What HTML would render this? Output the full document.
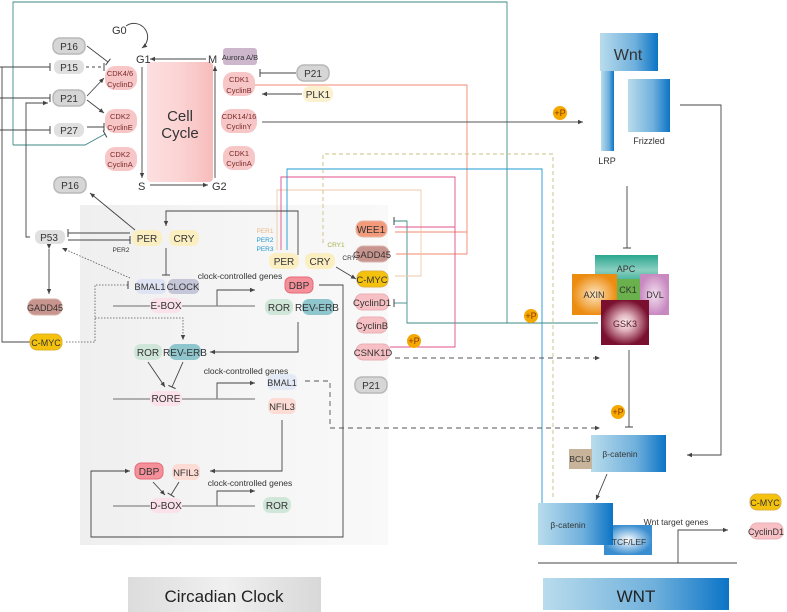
<!DOCTYPE html>
<html><head><meta charset="utf-8"><style>
html,body{margin:0;padding:0;background:#fff;}
svg{display:block;font-family:"Liberation Sans",sans-serif;}
</style></head><body>
<svg width="787" height="612" viewBox="0 0 787 612" xmlns="http://www.w3.org/2000/svg">
<defs>
<marker id="a" markerWidth="6" markerHeight="6" refX="5" refY="3" orient="auto" markerUnits="userSpaceOnUse"><path d="M0,0.8 L5,3 L0,5.2z" fill="#444"/></marker>
<marker id="t" markerWidth="2" markerHeight="8" refX="1" refY="4" orient="auto" markerUnits="userSpaceOnUse"><path d="M1,0 V8" stroke="#444" stroke-width="1"/></marker>
<linearGradient id="bg" x1="0" y1="0" x2="1" y2="0"><stop offset="0" stop-color="#efefef"/><stop offset="0.5" stop-color="#f5f5f5"/><stop offset="1" stop-color="#f9f9f9"/></linearGradient>
<linearGradient id="cc" x1="0" y1="0" x2="1" y2="0"><stop offset="0" stop-color="#fde0e0"/><stop offset="0.5" stop-color="#fbd3d3"/><stop offset="1" stop-color="#f7bcbc"/></linearGradient>
<linearGradient id="bl" x1="0" y1="0" x2="1" y2="0"><stop offset="0" stop-color="#b9dcec"/><stop offset="0.6" stop-color="#6fb0dc"/><stop offset="1" stop-color="#0b74c6"/></linearGradient>
<linearGradient id="cg" x1="0" y1="0" x2="1" y2="0"><stop offset="0" stop-color="#dcdcdc"/><stop offset="0.5" stop-color="#f0f0f0"/><stop offset="1" stop-color="#d8d8d8"/></linearGradient>
<radialGradient id="ax"><stop offset="0" stop-color="#fde7c4"/><stop offset="1" stop-color="#ec8c10"/></radialGradient>
<radialGradient id="gs"><stop offset="0" stop-color="#faf0f2"/><stop offset="0.35" stop-color="#e2b4c0"/><stop offset="1" stop-color="#7a1030"/></radialGradient>
<radialGradient id="dv"><stop offset="0" stop-color="#f4e0f0"/><stop offset="1" stop-color="#c889c0"/></radialGradient>
<linearGradient id="ap" x1="0" y1="0" x2="0" y2="1"><stop offset="0" stop-color="#2aa78f"/><stop offset="0.5" stop-color="#8acfc0"/><stop offset="1" stop-color="#2aa78f"/></linearGradient>
<radialGradient id="tc"><stop offset="0" stop-color="#fff"/><stop offset="1" stop-color="#3a8ed0"/></radialGradient>
</defs>

<rect x="80" y="205" width="308" height="340" fill="url(#bg)"/>

<rect x="147" y="62" width="66" height="120" rx="4" fill="url(#cc)"/>
<text x="180" y="121" font-size="15" text-anchor="middle" fill="#333">Cell</text>
<text x="180" y="138" font-size="15" text-anchor="middle" fill="#333">Cycle</text>
<g font-size="11" fill="#333">
<text x="112" y="34">G0</text><text x="136" y="63">G1</text><text x="208" y="63">M</text>
<text x="138" y="190">S</text><text x="212" y="190">G2</text>
</g>
<path d="M126,26 A11,11 0 1 1 142,48" fill="none" stroke="#444" marker-end="url(#a)"/>
<g stroke="#444" stroke-width="0.9" fill="none">
<path d="M142,67 V178" marker-end="url(#a)"/>
<path d="M150,185 H208" marker-end="url(#a)"/>
<path d="M215,178 V66" marker-end="url(#a)"/>
<path d="M206,59 H150" marker-end="url(#a)"/>
</g>

<g fill="none" stroke-width="0.9">
<path d="M13,145 V2 H507 V323" stroke="#3e8a86"/>
<path d="M13,145 H85 L105,134" stroke="#3e8a86" marker-end="url(#t)"/>
<path d="M394,221 H407 V323 H598" stroke="#3e8a86" marker-start="url(#t)"/>
<path d="M394,303 H407" stroke="#3e8a86" marker-start="url(#t)"/>
<path d="M254,85 H467 V254 H396" stroke="#f08a70"/>
<path d="M395,232 H467" stroke="#f08a70"/>
<path d="M277,250 V190 H421 V276 H395" stroke="#f0c8a8"/>
<path d="M281,250 V177 H455 V347 H390" stroke="#e0508a"/>
<path d="M395,227 H455" stroke="#e0508a"/>
<path d="M287,250 V169 H542 V505" stroke="#1e98d0"/>
<path d="M323,243 V154 H553 V500" stroke="#c8c080" stroke-dasharray="4,3"/>
<path d="M262,122 H583" stroke="#555" marker-end="url(#a)"/>
<path d="M395,358 H600" stroke="#555" stroke-dasharray="5,4" marker-end="url(#a)"/>
<path d="M305,381 H330 V428 H600" stroke="#555" stroke-dasharray="5,4" marker-end="url(#a)"/>
</g>

<g fill="none" stroke="#444" stroke-width="0.9">
<path d="M87,46 L108,62" marker-end="url(#t)"/>
<path d="M86,67 H104" stroke-dasharray="3,3" marker-end="url(#t)"/>
<path d="M87,96 L104,78" marker-end="url(#a)"/>
<path d="M87,100 L104,113" marker-end="url(#a)"/>
<path d="M87,127 H104" marker-end="url(#t)"/>
<path d="M0,67 H50" marker-end="url(#t)"/>
<path d="M0,98 H50" marker-end="url(#t)"/>
<path d="M0,130 H50" marker-end="url(#t)"/>
<path d="M2,67 V342 H30"/>
<path d="M30,237 H26 V103 H48" marker-end="url(#a)"/>
<path d="M296,73 H260" marker-end="url(#t)"/>
<path d="M302,94 H262" marker-end="url(#a)"/>
<path d="M135,230 L90,193" marker-end="url(#a)"/>
<path d="M130,233 H68" marker-end="url(#t)"/>
<path d="M68,240 H130" marker-end="url(#t)"/>
<path d="M49,249 V294" marker-start="url(#a)" marker-end="url(#a)"/>
<path d="M166,248 V275" marker-end="url(#t)"/>
<path d="M298,255 V211 H166 V226" marker-end="url(#a)"/>
<path d="M336,267 L356,279" marker-end="url(#a)"/>
<path d="M217,306 V290 H255" marker-end="url(#a)"/>
<path d="M298,322 V352 H210" marker-end="url(#a)"/>
<path d="M148,362 L165,387" marker-end="url(#a)"/>
<path d="M183,362 L172,387" marker-end="url(#t)"/>
<path d="M217,399 V383 H255" marker-end="url(#a)"/>
<path d="M282,420 V471 H210" marker-end="url(#a)"/>
<path d="M153,482 L165,495" marker-end="url(#a)"/>
<path d="M179,482 L171,495" marker-end="url(#t)"/>
<path d="M217,506 V491 H255" marker-end="url(#a)"/>
<path d="M319,285 H343 V537 H91 V471 H130" marker-end="url(#a)"/>
<path d="M627,186 V248" marker-end="url(#t)"/>
<path d="M629,350 V427" marker-end="url(#t)"/>
<path d="M680,105 H721 V455 H687" marker-end="url(#a)"/>
<path d="M607,474 L596,500" marker-end="url(#a)"/>
<path d="M538,563 H737"/>
<path d="M678,563 V530 H728" marker-end="url(#a)"/>
</g>
<g fill="none" stroke="#888" stroke-width="1.2">
<path d="M113,306 H255"/><path d="M113,399 H255"/><path d="M113,506 H255"/>
</g>
<g fill="none" stroke="#555" stroke-width="0.8" stroke-dasharray="1.5,1.5">
<path d="M66,342 H95 V285 H128" marker-end="url(#t)"/>
<path d="M95,318 H183 V340" marker-end="url(#a)"/>
<path d="M130,278 L62,248" marker-end="url(#a)"/>
</g>

<g font-size="10" text-anchor="middle" fill="#333">
<g fill="#d6d6d6" stroke="#b8b8b8" stroke-width="1.5">
<rect x="53" y="38" width="32" height="16" rx="7"/><rect x="53" y="90" width="32" height="16" rx="7"/>
<rect x="297" y="65" width="32" height="16" rx="7"/><rect x="54" y="177" width="32" height="16" rx="7"/>
<rect x="355" y="377" width="32" height="16" rx="7"/>
</g>
<g fill="#e0e0e0"><rect x="54" y="60" width="30" height="14" rx="6"/><rect x="54" y="123" width="30" height="14" rx="6"/><rect x="35" y="230" width="30" height="14" rx="6"/></g>
<text x="69" y="50">P16</text><text x="69" y="71">P15</text><text x="69" y="102">P21</text><text x="69" y="134">P27</text>
<text x="313" y="77">P21</text><text x="70" y="189">P16</text><text x="49" y="241">P53</text><text x="371" y="389">P21</text>
<g fill="#f7c6c6"><rect x="105" y="66" width="32" height="24" rx="10"/><rect x="105" y="109" width="32" height="24" rx="10"/><rect x="105" y="147" width="32" height="24" rx="10"/>
<rect x="223" y="72" width="32" height="24" rx="10"/><rect x="221" y="109" width="36" height="24" rx="10"/><rect x="223" y="146" width="32" height="24" rx="10"/></g>
<g font-size="7.5" fill="#7a2a2a"><text x="120" y="76">CDK4/6</text><text x="120" y="87">CyclinD</text>
<text x="120" y="119">CDK2</text><text x="120" y="130">CyclinE</text><text x="120" y="157">CDK2</text><text x="120" y="167">CyclinA</text>
<text x="239" y="82">CDK1</text><text x="239" y="93">CyclinB</text><text x="239" y="119">CDK14/16</text><text x="239" y="129">CyclinY</text>
<text x="239" y="156">CDK1</text><text x="239" y="166">CyclinA</text></g>
<rect x="223" y="48" width="34" height="17" rx="3" fill="#cdb7cd"/><text x="240" y="60" font-size="7.5">Aurora A/B</text>
<rect x="303" y="86" width="30" height="16" rx="7" fill="#fbf1cf"/><text x="318" y="98">PLK1</text>
<g fill="#fbefc2"><rect x="132" y="230" width="30" height="16" rx="7"/><rect x="169" y="230" width="30" height="16" rx="7"/><rect x="269" y="253" width="30" height="16" rx="7"/><rect x="305" y="253" width="30" height="16" rx="7"/></g>
<text x="147" y="242">PER</text><text x="184" y="242">CRY</text><text x="284" y="265">PER</text><text x="320" y="265">CRY</text>
<g font-size="6.5"><text x="265" y="233" fill="#e8b88a">PER1</text><text x="265" y="242" fill="#1e98d0">PER2</text><text x="265" y="251" fill="#1e98d0">PER3</text>
<text x="336" y="247" fill="#a8b04a">CRY1</text><text x="351" y="260">CRY2</text><text x="121" y="252">PER2</text></g>
<rect x="28" y="299" width="34" height="16" rx="7" fill="#c8958e" stroke="#d8b0aa"/><text x="45" y="311" font-size="9">GADD45</text>
<rect x="30" y="334" width="32" height="16" rx="7" fill="#f4c20d" stroke="#e0b030"/><text x="46" y="346" font-size="9">C-MYC</text>
<rect x="136" y="279" width="30" height="15" rx="5" fill="#dfe4f4"/><text x="150" y="290" font-size="9.5">BMAL1</text>
<rect x="168" y="279" width="31" height="15" rx="5" fill="#c5c6d8"/><text x="183" y="290" font-size="9.5">CLOCK</text>
<text x="240" y="279" font-size="8.5">clock-controlled genes</text>
<text x="246" y="374" font-size="8.5">clock-controlled genes</text>
<text x="250" y="486" font-size="8.5">clock-controlled genes</text>
<g fill="#fbe1ea"><rect x="150" y="298" width="32" height="15" rx="7"/><rect x="150" y="391" width="32" height="15" rx="7"/><rect x="150" y="498" width="32" height="15" rx="7"/></g>
<text x="166" y="309">E-BOX</text><text x="166" y="402">RORE</text><text x="166" y="509">D-BOX</text>
<rect x="285" y="277" width="28" height="16" rx="6" fill="#f5909a" stroke="#e56a78"/><text x="299" y="289">DBP</text>
<rect x="135" y="463" width="28" height="16" rx="6" fill="#f5909a" stroke="#e56a78"/><text x="149" y="475">DBP</text>
<g fill="#d0e6d8"><rect x="265" y="299" width="28" height="16" rx="7"/><rect x="134" y="344" width="28" height="16" rx="7"/><rect x="263" y="497" width="28" height="16" rx="7"/></g>
<text x="279" y="311">ROR</text><text x="148" y="356">ROR</text><text x="277" y="509">ROR</text>
<g fill="#8fc6ce"><rect x="302" y="299" width="32" height="16" rx="7"/><rect x="169" y="344" width="32" height="16" rx="7"/></g>
<text x="317" y="311">REV-ERB</text><text x="185" y="356">REV-ERB</text>
<rect x="267" y="374" width="30" height="16" rx="6" fill="#e4e9f6"/><text x="282" y="386" font-size="9">BMAL1</text>
<rect x="268" y="398" width="28" height="16" rx="6" fill="#fcdcd4"/><text x="282" y="410" font-size="9.5">NFIL3</text>
<rect x="172" y="464" width="28" height="16" rx="6" fill="#fcdcd4"/><text x="186" y="476" font-size="9.5">NFIL3</text>
<rect x="356" y="221" width="31" height="16" rx="7" fill="#f29a7a" stroke="#e8b8a8"/><text x="371" y="233">WEE1</text>
<rect x="356" y="246" width="33" height="16" rx="7" fill="#c8958e" stroke="#ddb8b2"/><text x="372" y="258" font-size="9.5">GADD45</text>
<rect x="357" y="271" width="31" height="16" rx="7" fill="#f4c20d" stroke="#e0b040"/><text x="372" y="283" font-size="9.5">C-MYC</text>
<g fill="#f7c0c4" stroke="#e8b0b4"><rect x="355" y="294" width="34" height="16" rx="7"/><rect x="357" y="317" width="30" height="16" rx="7"/><rect x="356" y="344" width="34" height="16" rx="7"/>
<rect x="750" y="523" width="33" height="16" rx="7"/></g>
<text x="372" y="306" font-size="9.5">CyclinD1</text><text x="372" y="329" font-size="9.5">CyclinB</text><text x="373" y="356" font-size="9.5">CSNK1D</text>
<text x="766" y="535" font-size="9">CyclinD1</text>
<rect x="750" y="494" width="31" height="16" rx="7" fill="#f4c20d" stroke="#e0b040"/><text x="765" y="506" font-size="9">C-MYC</text>
</g>

<g font-size="9" text-anchor="middle" fill="#8a3a00">
<circle cx="560" cy="113" r="7" fill="#f5a800"/><text x="560" y="116">+P</text>
<circle cx="531" cy="316" r="7" fill="#f5a800"/><text x="531" y="319">+P</text>
<circle cx="414" cy="341" r="7" fill="#f5a800"/><text x="414" y="344">+P</text>
<circle cx="618" cy="412" r="7" fill="#f5a800"/><text x="618" y="415">+P</text>
</g>

<rect x="600" y="33" width="58" height="38" fill="url(#bl)"/><text x="628" y="60" font-size="16" text-anchor="middle" fill="#333">Wnt</text>
<rect x="601" y="71" width="13" height="80" fill="url(#bl)"/><text x="607" y="164" font-size="9" text-anchor="middle" fill="#333">LRP</text>
<rect x="628" y="79" width="42" height="53" fill="url(#bl)"/><text x="649" y="144" font-size="9" text-anchor="middle" fill="#333">Frizzled</text>
<rect x="595" y="255" width="63" height="30" fill="url(#ap)"/>
<rect x="572" y="274" width="45" height="41" fill="url(#ax)"/>
<rect x="640" y="274" width="29" height="41" fill="url(#dv)"/>
<rect x="617" y="279" width="23" height="21" fill="#6ab04c"/>
<rect x="601" y="300" width="48" height="45" fill="url(#gs)"/>
<g font-size="9" text-anchor="middle" fill="#333">
<text x="626" y="272">APC</text><text x="594" y="298">AXIN</text><text x="628" y="293">CK1</text><text x="655" y="298">DVL</text>
<text x="625" y="327" fill="#5a1a2a">GSK3</text>
</g>
<rect x="591" y="435" width="75" height="37" fill="url(#bl)"/>
<rect x="569" y="449" width="23" height="20" fill="#c8b49a"/>
<text x="580" y="462" font-size="8.5" text-anchor="middle" fill="#333">BCL9</text>
<text x="620" y="457" font-size="8.5" text-anchor="middle" fill="#333">β-catenin</text>
<rect x="604" y="525" width="48" height="30" fill="url(#tc)"/>
<rect x="538" y="503" width="75" height="42" fill="url(#bl)"/>
<text x="568" y="528" font-size="8.5" text-anchor="middle" fill="#333">β-catenin</text>
<text x="629" y="545" font-size="8.5" text-anchor="middle" fill="#333">TCF/LEF</text>
<text x="676" y="525" font-size="8.5" text-anchor="middle" fill="#333">Wnt target genes</text>
<rect x="543" y="578" width="186" height="32" fill="url(#bl)"/>
<text x="636" y="602" font-size="17" text-anchor="middle" fill="#222">WNT</text>
<rect x="128" y="577" width="193" height="35" fill="url(#cg)"/>
<text x="224" y="602" font-size="17" text-anchor="middle" fill="#222">Circadian Clock</text>
</svg>
</body></html>
